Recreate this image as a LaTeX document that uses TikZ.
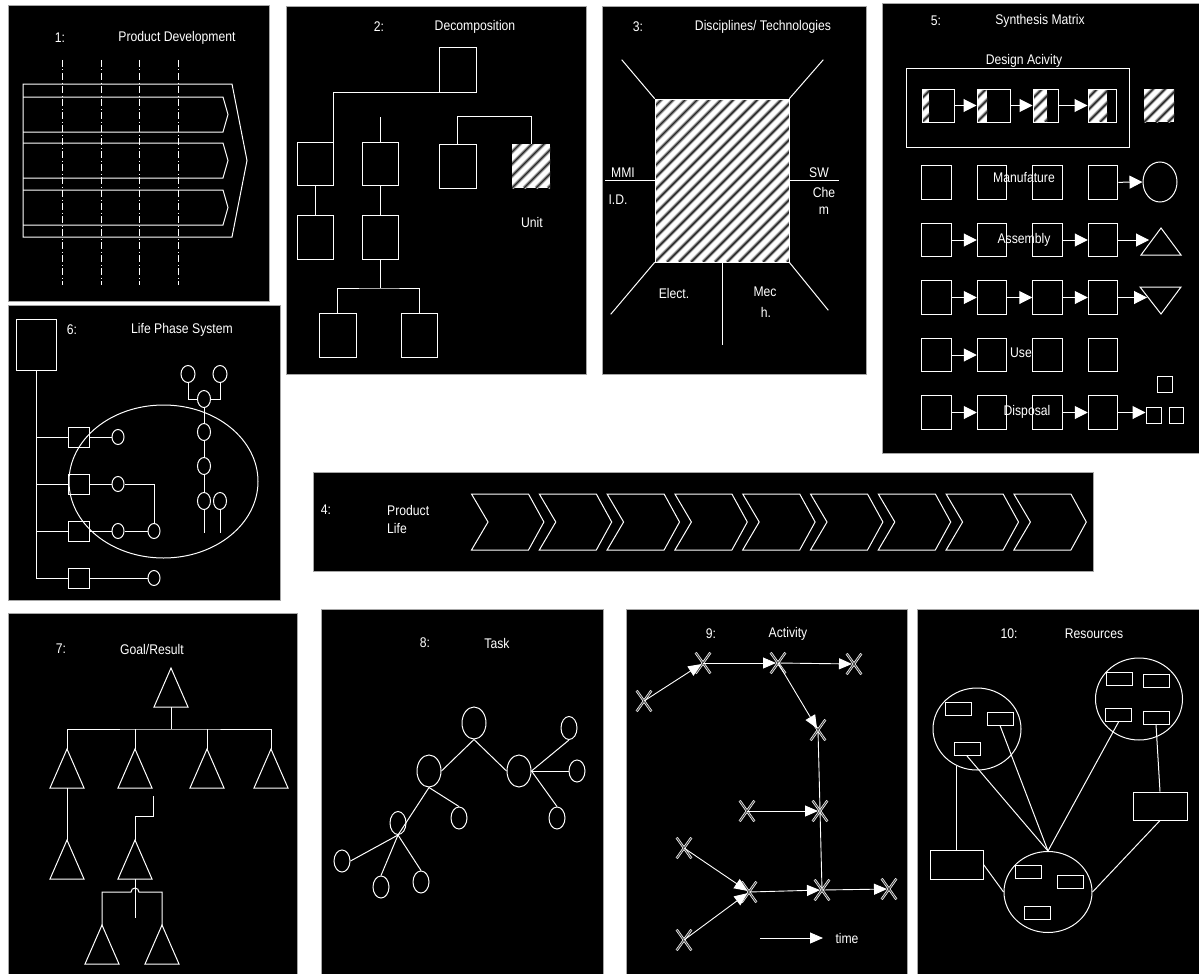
\documentclass[tikz,border=0pt]{standalone}
\usepackage{fontspec}
\setmainfont{Liberation Sans}[FakeStretch=0.87]
\usetikzlibrary{arrows.meta,shapes.geometric,shapes.misc}
\newcommand{\pfont}{\fontsize{14}{16}\selectfont}
\newcommand{\hatchbox}[4]{%
  \begin{scope}
    \clip (#1,#2) rectangle (#3,#4);
    \fill[white] (#1,#2) rectangle (#3,#4);
    \foreach \k in {-204,-192,...,204}{%
      \draw[black!35, line width=3.6pt] ({#1+(\k)},#4) -- ++(260,-260);
      \draw[black!85, line width=1.4pt] ({#1+(\k)},#4) -- ++(260,-260);
    }
  \end{scope}}
\newcommand{\gtri}[3]{%
  \draw[wl] (#1,#2) -- ({#1+17},{#2+39}) -- ({#1-17},{#2+39}) -- cycle;
  \coordinate (#3a) at (#1,#2);
  \coordinate (#3b) at (#1,{#2+39});}
\begin{document}
\begin{tikzpicture}[x=1pt,y=-1pt,
  panel/.style={fill=black, draw=gray!70, line width=0.8pt},
  wl/.style={draw=white, line width=1pt},
  ttl/.style={text=white, inner sep=0pt, font=\pfont},
  bx/.style 2 args={draw=white, line width=1pt, inner sep=0pt, minimum width=#1, minimum height=#2},
  ov/.style 2 args={ellipse, draw=white, line width=1pt, inner sep=0pt, minimum width=#1, minimum height=#2},
  arr/.style={wl, -{Triangle[length=13pt,width=13pt]}},
  arr9/.style={draw=white, line width=0.9pt, -{Triangle[length=13pt,width=11pt]}, shorten >=2pt},
  xm/.style={cross out, draw=white, line width=0.7pt, double=gray!60!black, double distance=1pt, minimum width=14pt, minimum height=20pt, inner sep=0pt}
]
\useasboundingbox (0,0) rectangle (1199,974);
\fill[white] (0,0) rectangle (1199,974);

% ---------- Panel 1 ----------
\draw[panel] (8,5) rectangle (269,301);
\node[ttl] (n1) at (60,38) {1:};
\node[ttl] (t1) at (177,38) {Product Development};
\foreach \xx in {62,101,139,178}{\draw[draw=white, line width=0.8pt, dash pattern=on 7pt off 2.5pt on 1pt off 2.5pt] (\xx,60) -- (\xx,285);}
\draw[wl] (23,84) -- (232,84) -- (247,160.5) -- (232,237) -- (23,237) -- cycle;
\foreach \yy in {97,143,190}{\draw[wl] (23,\yy) -- (223,\yy) -- (228,\yy+17.5) -- (223,\yy+35) -- (23,\yy+35);}

% ---------- Panel 2 ----------
\draw[panel] (286,6) rectangle (586,374);
\node[ttl] (n2) at (379,27) {2:};
\node[ttl] (t2) at (475,27) {Decomposition};
\node[bx={37pt}{44pt}] (p2) at (457.5,70) {};
\node[bx={36pt}{43pt}] (a2) at (315,163.5) {};
\node[bx={36pt}{43pt}] (b2) at (380,163.5) {};
\node[bx={37pt}{44pt}] (c2) at (457.5,166) {};
\hatchbox{512}{144}{550}{188}
\node[inner sep=0pt, minimum width=38pt, minimum height=44pt] (d2) at (531,166) {};
\node[bx={36pt}{44pt}] (aa2) at (315,237) {};
\node[bx={36pt}{44pt}] (bb2) at (380,237) {};
\node[bx={37pt}{44pt}] (e2) at (337.5,335) {};
\node[bx={36pt}{44pt}] (f2) at (419,335) {};
\node[ttl] (unit) at (532,222) {Unit};
\draw[wl] (p2.south west) -| (a2.north east);
\coordinate (b0) at (380,117);
\draw[wl] (b0) -- (b2.north);
\draw[wl] (c2.north) -- ++(0,-27) -| (d2.north);
\draw[wl] (a2.south) -- (aa2.north);
\draw[wl] (b2.south) -- (bb2.north);
\coordinate (j2) at (380,288);
\draw[wl] (bb2.south) -- (j2);
\draw[wl] (e2.north) |- (j2) -| (f2.north);

% ---------- Panel 3 ----------
\draw[panel] (602,6) rectangle (866,374);
\node[ttl] (n3) at (638,27) {3:};
\node[ttl] (t3) at (763,27) {Disciplines/ Technologies};
\hatchbox{655}{99}{789}{262}
\node[draw=white, line width=0.6pt, inner sep=0pt, minimum width=134pt, minimum height=163pt] (s3) at (722,180.5) {};
\draw[wl] (s3.north west) -- ++(-33,-39);
\draw[wl] (s3.north east) -- ++(34,-39);
\draw[wl] (s3.south west) -- ++(-44,52);
\draw[wl] (s3.south east) -- ++(39,48);
\draw[wl] (s3.west) -- ++(-50,0);
\draw[wl] (s3.east) -- ++(50,0);
\draw[wl] (s3.south) -- ++(0,83);
\node[ttl] (l3a) at (623,173) {MMI};
\node[ttl] (l3b) at (618,200) {I.D.};
\node[ttl] (l3c) at (819,173) {SW};
\node[ttl] (l3d) at (824,192) {Che};
\node[ttl] (l3e) at (824,211) {m};
\node[ttl] (l3f) at (674,293) {Elect.};
\node[ttl] (l3g) at (765,292) {Mec};
\node[ttl] (l3h) at (766,312) {h.};

% ---------- Panel 5 ----------
\draw[panel] (882,3) rectangle (1205,453);
\node[ttl] (n5) at (936,21) {5:};
\node[ttl] (t5) at (1040,21) {Synthesis Matrix};
\node[ttl] (da) at (1024,61) {Design Acivity};
\draw[wl] (906,69) rectangle (1129,147);
\hatchbox{922}{89}{929}{122}
\node[bx={32pt}{33pt}] (d51) at (938,105.5) {};
\hatchbox{977}{89}{987}{122}
\node[bx={33pt}{33pt}] (d52) at (993.5,105.5) {};
\hatchbox{1033}{89}{1047}{122}
\node[bx={25pt}{33pt}] (d53) at (1045.5,105.5) {};
\hatchbox{1088}{89}{1107}{122}
\node[bx={28pt}{33pt}] (d54) at (1102,105.5) {};
\hatchbox{1144}{89}{1174}{122}
\node[inner sep=0pt, minimum width=30pt, minimum height=33pt] (d55) at (1159,105.5) {};
\draw[arr] (d51) -- (d52);
\draw[arr] (d52) -- (d53);
\draw[arr] (d53) -- (d54);
\foreach \r/\yy in {2/182.5,3/240,4/297.5,5/355,6/412.5}{
  \foreach \c/\xx in {1/936.5,2/992,3/1047.5,4/1103}{
    \node[bx={29.5pt}{33.5pt}] (m\r\c) at (\xx,\yy) {};
  }
}
\node[ov={34pt}{40pt}] (circ5) at (1160,182) {};
\draw[wl] (1161,228) -- (1181,255) -- (1141,255) -- cycle;
\coordinate (tri5) at (1149,240);
\draw[wl] (1140,287) -- (1181,287) -- (1161,314) -- cycle;
\coordinate (itri5) at (1147,297.5);
\node[bx={15pt}{16pt}] (q1) at (1164.5,384.5) {};
\node[bx={15pt}{16pt}] (q2) at (1153.5,415) {};
\node[bx={14pt}{16pt}] (q3) at (1176,415) {};
\draw[arr] (m24) -- (circ5.west);
\draw[arr] (m31) -- (m32);
\draw[arr] (m33) -- (m34);
\draw[arr] (m34) -- (tri5);
\draw[arr] (m41) -- (m42);
\draw[arr] (m42) -- (m43);
\draw[arr] (m43) -- (m44);
\draw[arr] (m44) -- (itri5);
\draw[arr] (m51) -- (m52);
\draw[arr] (m61) -- (m62);
\draw[arr] (m63) -- (m64);
\draw[arr] (m64) -- (m64 -| q2.west);
\node[ttl] (lb51) at (1024,178) {Manufature};
\node[ttl] (lb52) at (1024,240) {Assembly};
\node[ttl] (lb53) at (1021,353) {Use};
\node[ttl] (lb54) at (1027,412) {Disposal};

% ---------- Panel 6 ----------
\draw[panel] (8,305) rectangle (280,600);
\node[ttl] (n6) at (72,330) {6:};
\node[ttl] (t6) at (182,330) {Life Phase System};
\node[ov={189pt}{153pt}] (el6) at (163.5,481.5) {};
\node[bx={40pt}{51pt}] (top6) at (36,344.5) {};
\node[bx={21pt}{20pt}] (s61) at (78.5,437) {};
\node[bx={21pt}{20pt}] (s62) at (78.5,484) {};
\node[bx={21pt}{20pt}] (s63) at (78.5,531) {};
\node[bx={21pt}{20pt}] (s64) at (78.5,578) {};
\draw[wl] (top6.south) |- (s64.west);
\foreach \s in {s61,s62,s63}{\draw[wl] (top6.south |- \s.west) -- (\s.west);}
\node[ov={12pt}{15pt}] (c61) at (118,437) {};
\node[ov={12pt}{15pt}] (c62) at (118,484) {};
\node[ov={12pt}{15pt}] (c63) at (118,531) {};
\node[ov={12pt}{15pt}] (c63b) at (154,531) {};
\node[ov={12pt}{15pt}] (c64) at (154,578) {};
\draw[wl] (s61.east) -- (c61.west);
\draw[wl] (s62.east) -- (c62.west);
\draw[wl] (c62.east) -| (c63b.north);
\draw[wl] (s63.east) -- (c63.west);
\draw[wl] (c63.east) -- (c63b.west);
\draw[wl] (s64.east) -- (c64.west);
\node[ov={14pt}{17pt}] (u1) at (188,374) {};
\node[ov={14pt}{17pt}] (u2) at (220,374) {};
\node[ov={13pt}{17pt}] (uj) at (204,399) {};
\node[ov={13pt}{17pt}] (k61) at (204,432) {};
\node[ov={13pt}{17pt}] (k62) at (204,466) {};
\node[ov={13pt}{17pt}] (k63) at (204,501) {};
\node[ov={13pt}{17pt}] (k64) at (220,501) {};
\draw[wl] (u1.south) |- (uj.west);
\draw[wl] (u2.south) |- (uj.east);
\draw[wl] (uj.south) -- (k61.north);
\draw[wl] (k61.south) -- (k62.north);
\draw[wl] (k62.south) -- (k63.north);
\draw[wl] (k63.south) -- ++(0,23);
\draw[wl] (k64.south) -- ++(0,23);

% ---------- Panel 4 ----------
\draw[panel] (313,472) rectangle (1093,571);
\node[ttl] (n4) at (326,510) {4:};
\node[ttl, anchor=west] (t4a) at (387,510) {Product};
\node[ttl, anchor=west] (t4b) at (387,528) {Life};
\foreach \i in {0,...,8}{
  \pgfmathsetmacro{\xo}{471.5+67.8*\i}
  \draw[wl] (\xo,494) -- ++(57,0) -- ++(15.4,28) -- ++(-15.4,28) -- ++(-57,0) -- ++(16.5,-28) -- cycle;
}

% ---------- Panel 7 ----------
\draw[panel] (8,613) rectangle (297,980);
\node[ttl] (n7) at (61,649) {7:};
\node[ttl] (t7) at (152,649) {Goal/Result};
\gtri{171}{668}{g0}
\coordinate (h7) at (171,729);
\draw[wl] (g0b) -- (h7);
\gtri{67}{749}{g1}
\gtri{135}{749}{g2}
\gtri{207}{749}{g3}
\gtri{271}{749}{g4}
\draw[wl] (g1a) |- (h7) -| (g4a);
\draw[wl] (g2a) -- (g2a |- h7);
\draw[wl] (g3a) -- (g3a |- h7);
\gtri{67}{840}{g5}
\gtri{135}{840}{g6}
\draw[wl] (g1b) -- (g5a);
\coordinate (k7) at (153,796);
\draw[wl] (k7) -- ++(0,20) -| (g6a);
\gtri{102}{925}{g7}
\gtri{162}{925}{g8}
\draw[wl] (g6b) -- ++(0,39);
\draw[wl] (g7a) -- ++(0,-33) -- (131,892) arc[start angle=180, end angle=360, radius=4] -- (162,892) -- (g8a);

% ---------- Panel 8 ----------
\draw[panel] (321,609) rectangle (603,980);
\node[ttl] (n8) at (425,643) {8:};
\node[ttl] (t8) at (497,643) {Task};
\node[ov={24pt}{32pt}] (k0) at (474,723) {};
\node[ov={24pt}{32pt}] (k1) at (429,771) {};
\node[ov={24pt}{32pt}] (k2) at (519,771) {};
\node[ov={16pt}{23pt}] (k3) at (398,823) {};
\node[ov={16pt}{22pt}] (k4) at (459,818) {};
\node[ov={16pt}{22pt}] (k5) at (342,861) {};
\node[ov={16pt}{22pt}] (k6) at (381,887) {};
\node[ov={16pt}{22pt}] (k7n) at (421,882) {};
\node[ov={16pt}{23pt}] (k8) at (569,728) {};
\node[ov={16pt}{22pt}] (k9) at (577,771) {};
\node[ov={16pt}{22pt}] (k10) at (557,818) {};
\draw[wl] (k0.south) -- (k1.east);
\draw[wl] (k0.south) -- (k2.west);
\draw[wl] (k2.east) -- (k8.south);
\draw[wl] (k2.east) -- (k9.west);
\draw[wl] (k2.east) -- (k10.north);
\draw[wl] (k1.south) -- (k4.north);
\draw[wl] (k1.south) -- (k3.south);
\draw[wl] (k3.south) -- (k5.east);
\draw[wl] (k3.south) -- (k6.north);
\draw[wl] (k3.south) -- (k7n.north);

% ---------- Panel 9 ----------
\draw[panel] (626,609) rectangle (907,980);
\node[ttl] (n9) at (711,634) {9:};
\node[ttl] (t9) at (788,634) {Activity};
\node[xm] (xa) at (644,701) {};
\node[xm] (xb) at (703,663) {};
\node[xm] (xc) at (778,663) {};
\node[xm] (xd) at (854,664) {};
\node[xm] (xe) at (818,730) {};
\node[xm] (xf) at (820,811) {};
\node[xm] (xg) at (747,811) {};
\node[xm] (xh) at (684,848) {};
\node[xm] (xi) at (749,892) {};
\node[xm] (xj) at (822,890) {};
\node[xm] (xk) at (889,889) {};
\node[xm] (xl) at (684,940) {};
\draw[arr9] (xa.center) -- (xb.center);
\draw[arr9] (xb.center) -- (xc.center);
\draw[arr9] (xc.center) -- (xd.center);
\draw[arr9] (xc.center) -- (xe.center);
\draw[draw=white, line width=0.9pt] (xe.center) -- (xj.center);
\draw[arr9] (xg.center) -- (xf.center);
\draw[arr9] (xh.center) -- (xi.center);
\draw[arr9] (xl.center) -- (xi.center);
\draw[arr9] (xi.center) -- (xj.center);
\draw[arr9] (xj.center) -- (xk.center);
\coordinate (ta) at (760,938);
\coordinate (tb) at (825,938);
\draw[arr9] (ta) -- (tb);
\node[ttl] (time) at (847,938) {time};

% ---------- Panel 10 ----------
\draw[panel] (917,609) rectangle (1205,980);
\node[ttl] (n10) at (1009,634) {10:};
\node[ttl] (t10) at (1094,634) {Resources};
\node[ov={88pt}{82pt}] (L10) at (977,729) {};
\node[ov={87pt}{82pt}] (R10) at (1139,699) {};
\node[ov={88pt}{81pt}] (B10) at (1048,892) {};
\node[bx={26pt}{13pt}] (l1) at (958,708.5) {};
\node[bx={26pt}{13pt}] (l2) at (1000,718.5) {};
\node[bx={26pt}{13pt}] (l3) at (967,749) {};
\node[bx={26pt}{13pt}] (r1) at (1119.5,679) {};
\node[bx={26pt}{13pt}] (r2) at (1156,681) {};
\node[bx={26pt}{13pt}] (r3) at (1118.5,715) {};
\node[bx={26pt}{13pt}] (r4) at (1156,717.5) {};
\node[bx={26pt}{13pt}] (bq1) at (1028,871.5) {};
\node[bx={26pt}{13pt}] (bq2) at (1070.5,881.5) {};
\node[bx={26pt}{13pt}] (bq3) at (1037.5,912.5) {};
\node[bx={53pt}{29pt}] (BL10) at (956.5,864.5) {};
\node[bx={54pt}{28pt}] (BR10) at (1160,806) {};
\draw[wl] (L10.241.6) -- (L10.241.6 |- BL10.north);
\draw[wl] (l3.south) -- (B10.north);
\draw[wl] (l2.south) -- (B10.north);
\draw[wl] (r3.south) -- (B10.north);
\draw[wl] (r4.south) -- (BR10.north);
\draw[wl] (BR10.south) -- (B10.east);
\draw[wl] (BL10.east) -- (B10.west);
\end{tikzpicture}
\end{document}
